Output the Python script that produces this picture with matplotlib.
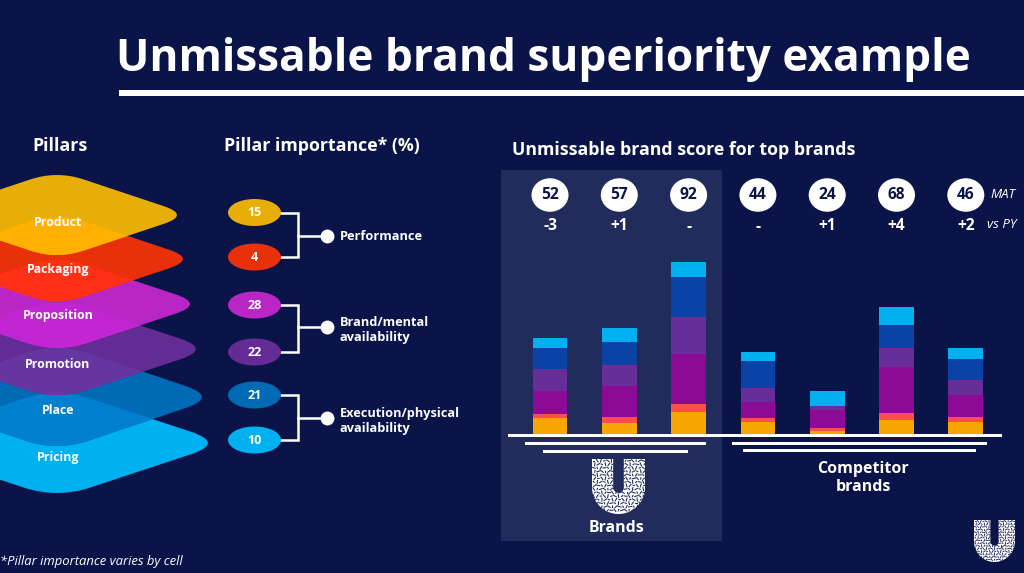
import numpy as np
import matplotlib
matplotlib.use('Agg')
import matplotlib.pyplot as plt
from matplotlib.patches import PathPatch, Rectangle, Ellipse
from matplotlib.path import Path

plt.rcParams['font.family'] = ['Open Sans', 'DejaVu Sans']

# pillars
pillars = ['Product', 'Packaging', 'Proposition', 'Promotion', 'Place', 'Pricing']
importance = [15, 4, 28, 22, 21, 10]
groups = ['Performance', 'Brand/mental\navailability', 'Execution/physical\navailability']

pillarColors = ['#E8AE08', '#E8300A', '#BA26C6', '#632C94', '#006AB4', '#00B1F1']
overlapColors = ['#FFB000', '#FF3016', '#C226D2', '#6535A0', '#0080CE']

# bars, bottom segment first (height)
scores = [52, 57, 92, 44, 24, 68, 46]
deltas = ['-3', '+1', '-', '-', '+1', '+4', '+2']
segProduct = [16.3, 11.3, 22.3, 12.0, 3.0, 14.0, 12.0]
segPackaging = [3.3, 5.7, 7.7, 3.7, 3.3, 7.0, 5.0]
segProposition = [23.0, 31.0, 50.3, 16.7, 17.7, 46.0, 22.0]
segPromotion = [22.3, 21.0, 36.3, 14.0, 4.0, 19.3, 14.7]
segPlace = [21.3, 22.7, 40.0, 26.3, 0.0, 22.3, 21.3]
segPricing = [10.3, 14.7, 15.3, 9.3, 14.7, 18.7, 10.7]

segColors = ['#F7A600', '#FF4D4D', '#8C0A96', '#662E96', '#0A42A5', '#00B0F0']

bg = '#0A1449'
panel = '#212C5C'
white = '#FFFFFF'

fig = plt.figure(figsize=(10.24, 5.73), dpi=100, facecolor=bg)
ax = fig.add_axes([0, 0, 1, 1])
ax.set_xlim(0, 1024)
ax.set_ylim(573, 0)
ax.axis('off')


def rhombus(cx, cy, hw, hh, f=0.2):
    # rounded diamond, hw/hh are the rounded half sizes
    W = hw / (1 - f / 2)
    H = hh / (1 - f / 2)
    pts = [(cx + W, cy), (cx, cy + H), (cx - W, cy), (cx, cy - H)]
    verts = []
    codes = []
    for i in range(4):
        p = np.array(pts[i])
        prev = np.array(pts[i - 1])
        nxt = np.array(pts[(i + 1) % 4])
        a = p + (prev - p) * f
        b = p + (nxt - p) * f
        verts += [a, p, b]
        codes += [Path.MOVETO if i == 0 else Path.LINETO, Path.CURVE3, Path.CURVE3]
    verts.append(verts[0])
    codes.append(Path.CLOSEPOLY)
    return Path(verts, codes)


def logo(cx, top, w, h, back):
    # rough U mark, white stroke with dark flecks
    sw = w * 0.4
    lw = sw * 0.72
    t = np.linspace(np.pi, 0, 30)
    r = (w - sw) / 2
    xs = np.r_[cx - r, cx + r * np.cos(t), cx + r]
    ys = np.r_[top, top + h - sw / 2 - r + r * np.sin(t), top]
    ax.plot(xs, ys, color=white, lw=lw, solid_capstyle='butt', zorder=8)
    step = w / 15.0
    n = int(w / step)
    m = int(h / step)
    for i in range(n):
        for j in range(m):
            px = cx - w / 2 + (i + 0.5) * step + (j % 2) * step * 0.3
            py = top + (j + 0.5) * step
            ang = np.deg2rad((i * 53 + j * 97) % 180)
            d = step * (0.42 if (i + j) % 3 else 0.2)
            ax.plot([px - d * np.cos(ang), px + d * np.cos(ang)],
                    [py - d * np.sin(ang), py + d * np.sin(ang)],
                    color=back, lw=step * 0.22, zorder=9)


# title
ax.text(116, 60, 'Unmissable brand superiority example', color=white, fontsize=31.8,
        fontweight='bold', va='center', ha='left')
ax.add_patch(Rectangle((119, 90), 905, 6, color=white, lw=0))

# headers
ax.text(60, 146, 'Pillars', color=white, fontsize=12.8, fontweight='bold', ha='center', va='center')
ax.text(322, 146, 'Pillar importance* (%)', color=white, fontsize=12.8, fontweight='bold', ha='center', va='center')
ax.text(512, 150, 'Unmissable brand score for top brands', color=white, fontsize=12.8, fontweight='bold', ha='left', va='center')

# pillar stack, lower ones first
stackY = [215, 259, 304, 349, 397, 443]
stackHw = [120, 126, 133, 139, 145, 151]
stackHh = [40, 42, 44, 46, 49, 50]
labelY = [222, 269, 316, 364, 411, 458]
shapes = [rhombus(57, stackY[i], stackHw[i], stackHh[i]) for i in range(6)]
patches = [None] * 6
for i in range(5, -1, -1):
    patches[i] = PathPatch(shapes[i], fc=pillarColors[i], ec='none', zorder=2 + (5 - i) * 0.1)
    ax.add_patch(patches[i])
    if i < 5:
        over = PathPatch(shapes[i], fc=overlapColors[i], ec='none', zorder=2.05 + (5 - i) * 0.1)
        ax.add_patch(over)
        over.set_clip_path(patches[i + 1])
for i, name in enumerate(pillars):
    ax.text(58, labelY[i], name, color=white, fontsize=8.9, fontweight='bold', ha='center', va='center', zorder=4)

# importance ellipses and brackets
ellipseY = [212.5, 257, 305, 352, 395, 440]
for i, val in enumerate(importance):
    ax.add_patch(Ellipse((254.5, ellipseY[i]), 53, 27, fc=pillarColors[i], ec='none', zorder=3))
    ax.text(254.5, ellipseY[i] + 0.5, str(val), color=white, fontsize=9, fontweight='bold',
            ha='center', va='center', zorder=4)
for g in range(3):
    y0 = ellipseY[g * 2]
    y1 = ellipseY[g * 2 + 1]
    mid = [236, 327, 418][g]
    ax.plot([280, 298, 298, 280], [y0, y0, y1, y1], color=white, lw=1.8, solid_joinstyle='miter', zorder=2.9)
    ax.plot([298, 327], [mid, mid], color=white, lw=1.8, zorder=2.9)
    ax.plot([327], [mid], 'o', color=white, ms=10, mec='none', zorder=3)
    ax.text(340, mid + (0 if g == 0 else 3), groups[g], color=white, fontsize=9.2, fontweight='bold',
            ha='left', va='center', linespacing=1.12)

# brand panel and score row
ax.add_patch(Rectangle((501, 170), 221, 371, color=panel, lw=0, zorder=1))
barX = [550 + 69.3 * i for i in range(7)]
for i, x in enumerate(barX):
    ax.add_patch(Ellipse((x, 195), 37, 33.5, fc=white, ec='none', zorder=3))
    ax.text(x, 195, str(scores[i]), color=bg, fontsize=11.2, fontweight='bold', ha='center', va='center', zorder=4)
    ax.text(x, 226.5, deltas[i], color=white, fontsize=11.2, fontweight='bold', ha='center', va='center', zorder=4)
ax.text(1003, 194, 'MAT', color=white, fontsize=9.5, style='italic', ha='center', va='center', zorder=4)
ax.text(1002, 225, 'vs PY', color=white, fontsize=9.5, style='italic', ha='center', va='center', zorder=4)

# stacked bars in their own axes: x step 69.3 px, y in px above the baseline
barAx = fig.add_axes([500 / 1024, (573 - 434) / 573, 510 / 1024, 264 / 573], facecolor='none')
barAx.set_xlim((500 - 550) / 69.3, (1010 - 550) / 69.3)
barAx.set_ylim(0, 264)
barAx.axis('off')
pos = np.arange(len(scores))
bottom = np.zeros(len(scores))
for seg, col in zip([segProduct, segPackaging, segProposition, segPromotion, segPlace, segPricing], segColors):
    barAx.bar(pos, seg, bottom=bottom, width=0.5, color=col, linewidth=0)
    bottom = bottom + np.array(seg)

# baselines
for x0, x1, y, h in [(508, 1002, 433.5, 3), (525, 706, 442, 3), (543, 688, 449.5, 3),
                     (732, 987, 441.5, 3), (743, 976, 449, 3)]:
    ax.add_patch(Rectangle((x0, y), x1 - x0, h, color=white, lw=0, zorder=5))

ax.text(863, 478, 'Competitor\nbrands', color=white, fontsize=11.5, fontweight='bold', ha='center', va='center', linespacing=1.12)
ax.text(617, 528, 'Brands', color=white, fontsize=11.4, fontweight='bold', ha='center', va='center', zorder=4)
logo(618.5, 459, 53, 55, panel)
logo(994.5, 520, 41, 42, bg)

ax.text(0, 562, '*Pillar importance varies by cell', color=white, fontsize=9.4, style='italic', ha='left', va='center')

fig.savefig('out.png', dpi=100, facecolor=bg)
